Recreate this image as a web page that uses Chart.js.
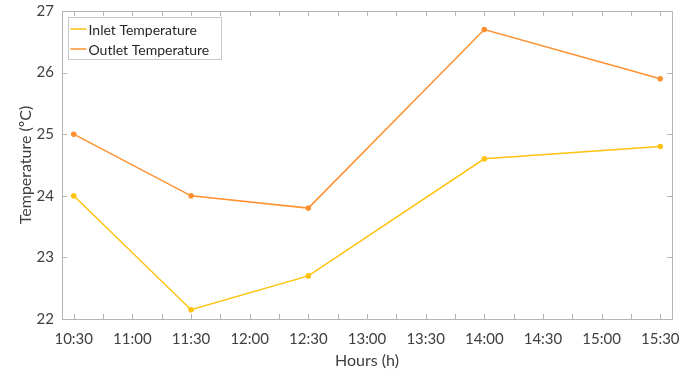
<!DOCTYPE html>
<html>
<head>
<meta charset="utf-8">
<script src="https://cdn.jsdelivr.net/npm/chart.js@4/dist/chart.umd.min.js"></script>
<style>
html,body{margin:0;padding:0;background:#fff;}
#wrap{width:692px;height:372px;position:relative;}
</style>
</head>
<body>
<div id="wrap"><canvas id="c" width="692" height="372"></canvas></div>
<script>
const timeLabels = ['10:30','11:00','11:30','12:00','12:30','13:00','13:30','14:00','14:30','15:00','15:30'];
const sampleTimes = ['10:30','11:30','12:30','14:00','15:30'];
const inletTemps = [24.0, 22.15, 22.7, 24.6, 24.8];
const outletTemps = [25.0, 24.0, 23.8, 26.7, 25.9];
const yTicks = [22, 23, 24, 25, 26, 27];
const seriesNames = ['Inlet Temperature', 'Outlet Temperature'];
const seriesColors = ['#FFC20E', '#FF9130'];

function toHours(s){ const p = s.split(':'); return +p[0] + (+p[1])/60; }
const labelHours = timeLabels.map(toHours);
const minorHours = [];
for (let i = 0; i < labelHours.length - 1; i++) minorHours.push((labelHours[i] + labelHours[i+1]) / 2);

const FONT = 'Lato, "Open Sans", sans-serif';
const AXIS = '#b4b4b4';
const TXT = '#404040';

const frame = {
  id: 'frame',
  afterDatasetsDraw(chart){
    const {ctx, chartArea:a, scales:{x, y}} = chart;
    ctx.save();
    ctx.strokeStyle = AXIS; ctx.lineWidth = 1;
    ctx.beginPath();
    ctx.rect(Math.round(a.left)+0.5, Math.round(a.top)+0.5, Math.round(a.right-a.left), Math.round(a.bottom-a.top));
    ctx.stroke();
    const L = 5;
    ctx.beginPath();
    labelHours.concat(minorHours).forEach(h => {
      const px = Math.round(x.getPixelForValue(h)) + 0.5;
      ctx.moveTo(px, a.bottom); ctx.lineTo(px, a.bottom - L);
      ctx.moveTo(px, a.top); ctx.lineTo(px, a.top + L);
    });
    yTicks.forEach(v => {
      const py = Math.round(y.getPixelForValue(v)) + 0.5;
      ctx.moveTo(a.left, py); ctx.lineTo(a.left + L, py);
      ctx.moveTo(a.right, py); ctx.lineTo(a.right - L, py);
    });
    ctx.stroke();

    // legend
    const lx = Math.round(a.left) + 6.5, ly = Math.round(a.top) + 6.5, lw = 153, lh = 42;
    ctx.fillStyle = '#fff';
    ctx.fillRect(lx, ly, lw, lh);
    ctx.strokeStyle = '#c8c8c8';
    ctx.strokeRect(lx, ly, lw, lh);
    ctx.font = '14px ' + FONT;
    ctx.textBaseline = 'middle';
    ctx.textAlign = 'left';
    chart.data.datasets.forEach((ds, i) => {
      const yy = ly + 11.5 + i * 20;
      ctx.strokeStyle = ds.borderColor; ctx.lineWidth = 1.5;
      ctx.beginPath(); ctx.moveTo(lx + 2, yy); ctx.lineTo(lx + 18, yy); ctx.stroke();
      ctx.fillStyle = '#262626';
      ctx.fillText(ds.label, lx + 20, yy + 1);
    });
    ctx.restore();
  }
};

const mkData = vals => sampleTimes.map((t, i) => ({x: toHours(t), y: vals[i]}));

new Chart(document.getElementById('c'), {
  type: 'line',
  data: {
    datasets: [
      {label: seriesNames[0], data: mkData(inletTemps), borderColor: seriesColors[0], backgroundColor: seriesColors[0], borderWidth: 1.5, pointRadius: 2.8, pointBorderWidth: 0, tension: 0},
      {label: seriesNames[1], data: mkData(outletTemps), borderColor: seriesColors[1], backgroundColor: seriesColors[1], borderWidth: 1.5, pointRadius: 2.8, pointBorderWidth: 0, tension: 0}
    ]
  },
  options: {
    responsive: false,
    animation: false,
    layout: {autoPadding: false, padding: {top: 11, right: 20, left: 16, bottom: 0}},
    plugins: {legend: {display: false}, tooltip: {enabled: false}},
    scales: {
      x: {
        type: 'linear',
        min: labelHours[0] - 0.1,
        max: labelHours[labelHours.length-1] + 0.1,
        afterBuildTicks: s => { s.ticks = labelHours.map(v => ({value: v})); },
        afterFit: s => { s.height = 53; s.paddingLeft = 0; s.paddingRight = 0; s.paddingTop = 0; s.paddingBottom = 0; },
        grid: {display: false, drawTicks: false},
        border: {display: false},
        ticks: {
          autoSkip: false, maxRotation: 0, padding: 11,
          color: TXT, font: {family: FONT, size: 15},
          callback: (v) => { const i = labelHours.findIndex(h => Math.abs(h - v) < 1e-6); return i >= 0 ? timeLabels[i] : ''; }
        },
        title: {display: true, text: 'Hours (h)', color: TXT, font: {family: FONT, size: 16}, padding: {top: 0, bottom: 2}}
      },
      y: {
        min: yTicks[0], max: yTicks[yTicks.length-1],
        afterBuildTicks: s => { s.ticks = yTicks.map(v => ({value: v})); },
        afterFit: s => { s.width = 46; s.paddingTop = 0; s.paddingBottom = 0; s.paddingLeft = 0; s.paddingRight = 0; },
        grid: {display: false, drawTicks: false},
        border: {display: false},
        ticks: {padding: 8, color: TXT, font: {family: FONT, size: 15}},
        title: {display: true, text: 'Temperature (ºC)', color: TXT, font: {family: FONT, size: 16}, padding: {top: 0, bottom: 0}}
      }
    }
  },
  plugins: [frame]
});
</script>
</body>
</html>
